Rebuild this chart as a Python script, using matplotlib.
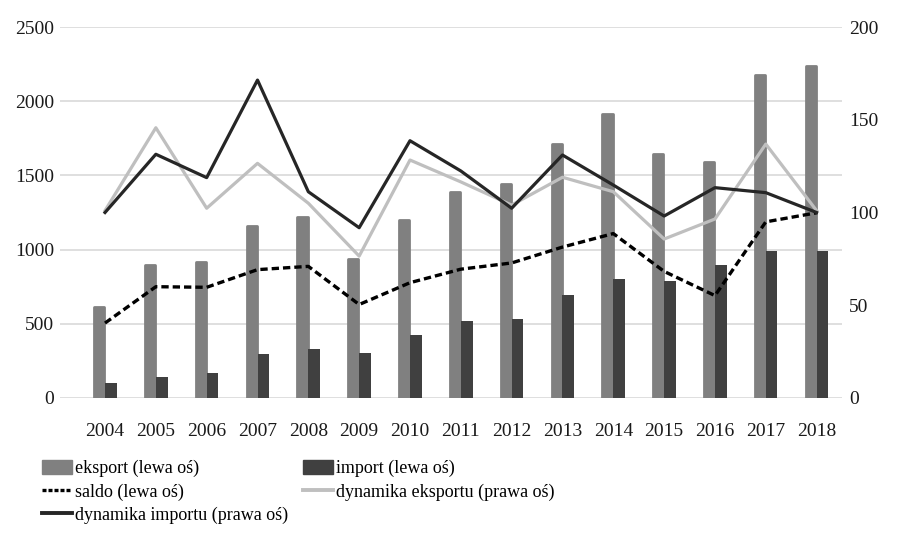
import matplotlib
matplotlib.use("Agg")
import matplotlib.pyplot as plt
import numpy as np
from matplotlib.lines import Line2D
from matplotlib.patches import Patch

plt.rcParams["font.family"] = ["Liberation Serif", "DejaVu Serif"]

years = ["2004", "2005", "2006", "2007", "2008", "2009", "2010", "2011",
         "2012", "2013", "2014", "2015", "2016", "2017", "2018"]
eksport = [613, 896, 919, 1161, 1220, 939, 1202, 1390,
           1444, 1714, 1914, 1646, 1590, 2177, 2239]
import_ = [103, 139, 166, 294, 328, 301, 425, 519,
           530, 694, 800, 788, 894, 991, 991]
saldo = [505, 750, 746, 865, 887, 630, 777, 868,
         910, 1017, 1108, 853, 690, 1187, 1248]
dyn_eksportu = [101, 145.7, 102.3, 126.5, 105, 76.5, 128.3, 116.5,
                104, 119, 111.2, 85.7, 96.5, 136.9, 101]
dyn_importu = [100, 131.4, 118.8, 171.4, 111.2, 91.8, 138.7, 122.4,
               102.3, 131, 114.8, 98.1, 113.4, 110.7, 100]

C_EXP = "#808080"
C_IMP = "#404040"
C_DYN_EXP = "#bfbfbf"
C_DYN_IMP = "#262626"
C_GRID = "#d9d9d9"

x = np.arange(len(years))
w = 0.23

fig = plt.figure(figsize=(9, 5.34), dpi=100)
ax = fig.add_axes([0.0667, 0.2547, 0.8689, 0.6947])
ax2 = ax.twinx()

# bars on the left axis
ax.bar(x - w / 2, eksport, width=w - 0.03, color=C_EXP, edgecolor=C_EXP,
       linewidth=2, joinstyle="round", zorder=2)
ax.bar(x + w / 2, import_, width=w, color=C_IMP, zorder=2)
ax.plot(x, saldo, color="black", linewidth=2.4, linestyle=(0, (2.2, 1.2)),
        zorder=4)

# index lines on the right axis
ax2.plot(x, dyn_eksportu, color=C_DYN_EXP, linewidth=2.3, zorder=3)
ax2.plot(x, dyn_importu, color=C_DYN_IMP, linewidth=2.3, zorder=4)

ax.set_ylim(0, 2500)
ax.set_yticks(range(0, 2501, 500))
ax2.set_ylim(0, 200)
ax2.set_yticks(range(0, 201, 50))
ax.set_xlim(-0.885, 14.5)
ax.set_xticks(x)
ax.set_xticklabels(years)

ax.yaxis.grid(True, color=C_GRID, linewidth=1.2, zorder=0)
ax.set_axisbelow(True)
for a in (ax, ax2):
    for s in a.spines.values():
        s.set_visible(False)
    a.tick_params(length=0, labelsize=14, colors="#1a1a1a")
ax.tick_params(axis="y", pad=4)
ax.tick_params(axis="x", pad=18)
ax2.tick_params(axis="y", pad=5)

handles = [
    Patch(color=C_EXP, label="eksport (lewa oś)"),
    Line2D([], [], color="black", linewidth=2.4, linestyle=(0, (1.2, 0.6)),
           label="saldo (lewa oś)"),
    Line2D([], [], color=C_DYN_IMP, linewidth=2.8,
           label="dynamika importu (prawa oś)"),
    Patch(color=C_IMP, label="import (lewa oś)"),
    Line2D([], [], color=C_DYN_EXP, linewidth=2.8,
           label="dynamika eksportu (prawa oś)"),
]
fig.legend(handles=handles, ncol=2, loc="upper left",
           bbox_to_anchor=(0.039, 0.152), frameon=False, fontsize=13,
           handlelength=1.67, handleheight=0.75, handletextpad=0.15,
           columnspacing=0.8, labelspacing=0.33, borderaxespad=0)

fig.savefig("out.png", dpi=100)
